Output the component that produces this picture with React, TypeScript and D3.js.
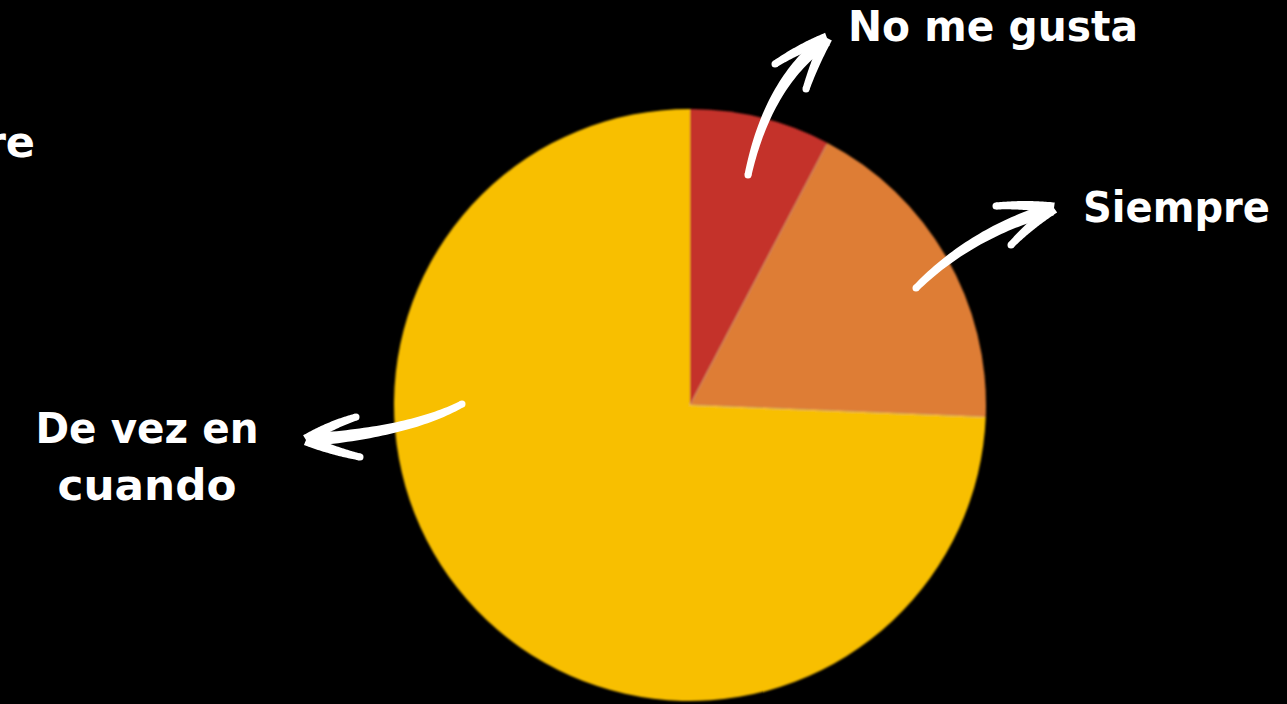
import React from "react";
import * as d3 from "d3";

const categories = ["No me gusta", "Siempre", "De vez en cuando"];
const values = [3, 7, 29];
const colors = ["#C4302B", "#DE7D35", "#F8BF00"];

const W = 1287;
const H = 704;
const CX = 690;
const CY = 405;
const R = 296;

type P = [number, number];

// tapered brush stroke along a quadratic curve
function brush(p0: P, c: P, p1: P, w0: number, w1: number, n = 40): string {
  const left: P[] = [];
  const right: P[] = [];
  for (let i = 0; i <= n; i++) {
    const t = i / n;
    const x = (1 - t) * (1 - t) * p0[0] + 2 * (1 - t) * t * c[0] + t * t * p1[0];
    const y = (1 - t) * (1 - t) * p0[1] + 2 * (1 - t) * t * c[1] + t * t * p1[1];
    const dx = 2 * (1 - t) * (c[0] - p0[0]) + 2 * t * (p1[0] - c[0]);
    const dy = 2 * (1 - t) * (c[1] - p0[1]) + 2 * t * (p1[1] - c[1]);
    const len = Math.hypot(dx, dy) || 1;
    const nx = -dy / len;
    const ny = dx / len;
    const w = (w0 + (w1 - w0) * t) / 2;
    left.push([x + nx * w, y + ny * w]);
    right.push([x - nx * w, y - ny * w]);
  }
  const pts = left.concat(right.reverse());
  return d3.line().curve(d3.curveLinearClosed)(pts) as string;
}

interface Arrow {
  shaft: [P, P, P];
  wingA: [P, P, P];
  wingB: [P, P, P];
}

const arrows: Arrow[] = [
  {
    shaft: [[748, 175], [768, 82], [826, 40]],
    wingA: [[827, 38], [800, 48], [775, 64]],
    wingB: [[827, 38], [815, 62], [806, 89]],
  },
  {
    shaft: [[916, 288], [972, 232], [1052, 209]],
    wingA: [[1054, 208], [1025, 204], [996, 206]],
    wingB: [[1054, 208], [1030, 225], [1011, 245]],
  },
  {
    shaft: [[462, 404], [410, 432], [308, 440]],
    wingA: [[306, 440], [330, 425], [356, 417]],
    wingB: [[306, 440], [333, 451], [360, 457]],
  },
];

const font = "'DejaVu Sans', sans-serif";

export default function App() {
  const pie = d3.pie<number>().sort(null).value((d) => d)(values);
  const arc = d3.arc<d3.PieArcDatum<number>>().innerRadius(0).outerRadius(R);

  return (
    <div style={{ position: "fixed", left: 0, top: 0, width: W, height: H, background: "#000" }}>
      <svg width={W} height={H} style={{ display: "block" }}>
        <defs>
          <filter id="soft" x="-10%" y="-10%" width="120%" height="120%">
            <feGaussianBlur stdDeviation="1" />
          </filter>
        </defs>
        <rect width={W} height={H} fill="#000" />
        <g transform={`translate(${CX},${CY})`} filter="url(#soft)">
          {pie.map((d, i) => (
            <path key={categories[i]} d={arc(d) as string} fill={colors[i]} />
          ))}
          {pie.slice(1).map((d, i) => {
            const [x, y] = d3.pointRadial(d.startAngle, R - 2);
            return (
              <line key={i} x1={0} y1={0} x2={x} y2={y} stroke="rgba(255,220,190,0.45)" strokeWidth={1} />
            );
          })}
        </g>
        {arrows.map((a, i) => (
          <g key={i} fill="#fff">
            <path d={brush(a.shaft[0], a.shaft[1], a.shaft[2], 7, 13)} />
            <path d={brush(a.wingA[0], a.wingA[1], a.wingA[2], 11, 7)} />
            <path d={brush(a.wingB[0], a.wingB[1], a.wingB[2], 11, 7)} />
            <circle cx={a.shaft[0][0]} cy={a.shaft[0][1]} r={3.5} />
            <circle cx={a.wingA[2][0]} cy={a.wingA[2][1]} r={3.5} />
            <circle cx={a.wingB[2][0]} cy={a.wingB[2][1]} r={3.5} />
          </g>
        ))}
        <g fill="#fff" fontFamily={font} fontWeight="bold" fontSize={43}>
          <text x={848} y={41} textLength={290} lengthAdjust="spacingAndGlyphs">
            {categories[0]}
          </text>
          <text x={1083} y={222} textLength={187} lengthAdjust="spacingAndGlyphs">
            {categories[1]}
          </text>
          <text x={35} y={157} textAnchor="end">
            {categories[1]}
          </text>
          <text x={147} y={443} textAnchor="middle" textLength={223} lengthAdjust="spacingAndGlyphs">
            De vez en
          </text>
          <text x={147} y={500} textAnchor="middle" textLength={179} lengthAdjust="spacingAndGlyphs">
            cuando
          </text>
        </g>
      </svg>
    </div>
  );
}
